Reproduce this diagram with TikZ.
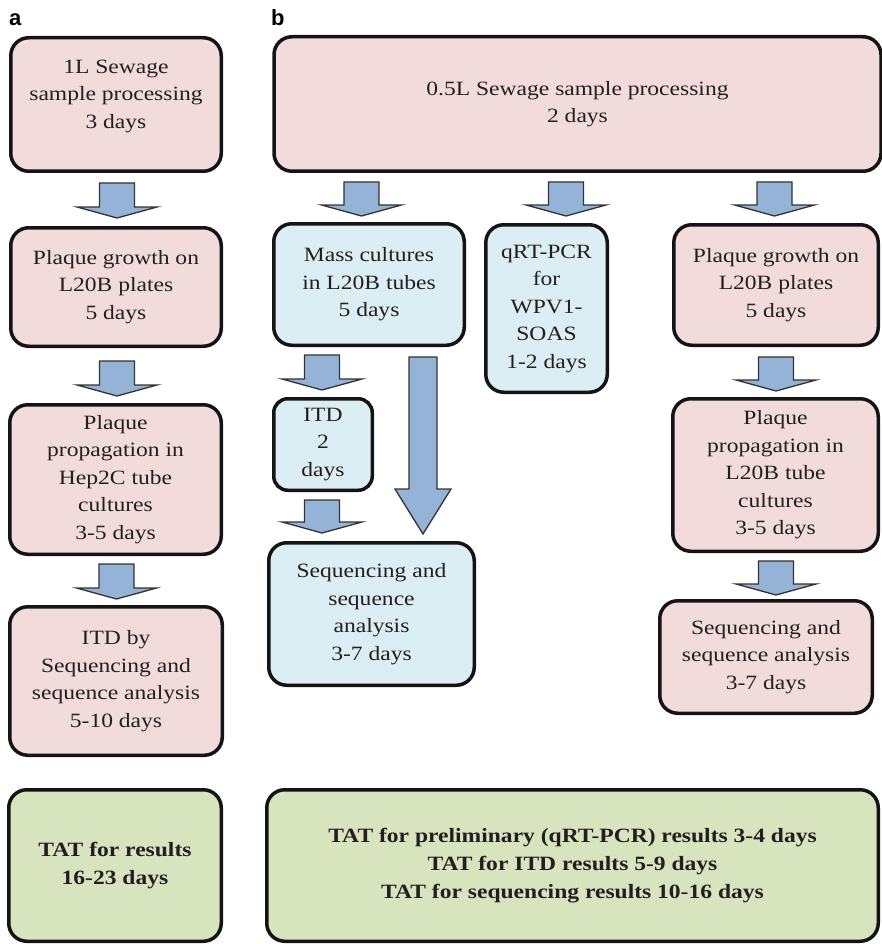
\documentclass[tikz,border=0pt]{standalone}
\usepackage{fontspec}
\setmainfont{Liberation Serif}[FakeStretch=1.16]
\newfontfamily\labelfont{Liberation Sans}
\usetikzlibrary{calc}
\definecolor{pinkfill}{RGB}{242,220,219}
\definecolor{bluefill}{RGB}{219,238,243}
\definecolor{greenfill}{RGB}{215,228,189}
\definecolor{arrowfill}{RGB}{149,179,215}
\definecolor{txtcol}{RGB}{35,31,32}
\definecolor{edgecol}{RGB}{20,20,20}
\begin{document}
\begin{tikzpicture}[x=1pt,y=-1pt,
  box/.style={draw=edgecol, line width=3.5pt, rounded corners=18pt, align=center,
    text=txtcol, font=\fontsize{20.3}{27.5}\selectfont, inner sep=0pt},
  pinkbox/.style={box, fill=pinkfill},
  bluebox/.style={box, fill=bluefill},
  greenbox/.style={box, fill=greenfill, font=\fontsize{20.3}{28}\selectfont\bfseries},
  panel/.style={font=\labelfont\bfseries\fontsize{22}{22}\selectfont, anchor=base west, inner sep=0pt},
  smallarr/.code={\def\arrSW{17.5pt}\def\arrHW{40pt}\def\arrHL{11pt}},
  bigarr/.code={\def\arrSW{14pt}\def\arrHW{28pt}\def\arrHL{45pt}},
  blk/.style={draw=black!80, line width=1.3pt, fill=arrowfill, line join=miter,
    to path={let \p1=(\tikztostart), \p2=(\tikztotarget) in
      (\x1-\arrSW,\y1) -- (\x1+\arrSW,\y1) -- (\x1+\arrSW,\y2+\arrHL) -- (\x1+\arrHW,\y2+\arrHL)
      -- (\x1,\y2) -- (\x1-\arrHW,\y2+\arrHL) -- (\x1-\arrSW,\y2+\arrHL) -- cycle}},
]
\useasboundingbox (0,0) rectangle (882,944);

% panel labels
\node[panel] (la) at (9,26) {a};
\node[panel] (lb) at (271,26) {b};

% panel a
\node[pinkbox, minimum width=210.5pt, minimum height=133.5pt] (a1) at (116,104.5)
  {1L Sewage\\sample processing\\3 days\\[-7pt]\mbox{}};
\node[pinkbox, minimum width=210.5pt, minimum height=118.5pt] (a2) at (116,287)
  {Plaque growth on\\L20B plates\\5 days};
\node[pinkbox, minimum width=211.5pt, minimum height=149.5pt] (a3) at (115.5,479.5)
  {Plaque\\propagation in\\Hep2C tube\\cultures\\3-5 days};
\node[pinkbox, minimum width=212.5pt, minimum height=148.5pt] (a4) at (116,681)
  {ITD by\\Sequencing and\\sequence analysis\\5-10 days};
\node[greenbox, minimum width=212.5pt, minimum height=151.5pt] (a5) at (115,865.5)
  {TAT for results\\16-23 days};

% panel b
\node[pinkbox, minimum width=607pt, minimum height=134.5pt] (b1) at (577.5,104)
  {0.5L Sewage sample processing\\2 days};
\node[bluebox, minimum width=190.5pt, minimum height=121.5pt] (b2) at (369,284.5)
  {Mass cultures\\in L20B tubes\\5 days};
\node[bluebox, minimum width=121.5pt, minimum height=167.5pt] (b3) at (546.5,308.5)
  {qRT-PCR\\for\\WPV1-\\SOAS\\1-2 days};
\node[pinkbox, minimum width=204.5pt, minimum height=120.5pt] (b4) at (776,285)
  {Plaque growth on\\L20B plates\\5 days};
\node[bluebox, rounded corners=14pt, minimum width=98.5pt, minimum height=91.5pt] (itd) at (323,444.5)
  {ITD\\2\\days};
\node[bluebox, minimum width=205.5pt, minimum height=142.5pt] (b5) at (371.5,614)
  {Sequencing and\\sequence\\analysis\\3-7 days};
\node[pinkbox, minimum width=205.5pt, minimum height=152.5pt] (b6) at (775.5,475)
  {Plaque\\propagation in\\L20B tube\\cultures\\3-5 days};
\node[pinkbox, minimum width=212.5pt, minimum height=112.5pt] (b7) at (766,657)
  {Sequencing and\\sequence analysis\\3-7 days};
\node[greenbox, minimum width=611.5pt, minimum height=151.5pt] (b8) at (572.5,865.5)
  {TAT for preliminary (qRT-PCR) results 3-4 days\\TAT for ITD results 5-9 days\\TAT for sequencing results 10-16 days};

% block arrows, panel a
\draw[smallarr, blk] ($(a1.south)+(1,10)$) to ($(a2.north)+(1,-8)$);
\draw[smallarr, blk] ($(a2.south)+(1,13)$) to ($(a3.north)+(1,-7)$);
\draw[smallarr, blk] ($(a3.south)+(1,8)$) to ($(a4.north)+(1,-6)$);

% block arrows, panel b
\draw[smallarr, blk] ($(b1.south -| b2.north)+(-7.5,9)$) to ($(b2.north)+(-7.5,-6)$);
\draw[smallarr, blk] ($(b1.south -| b3.north)+(19.5,9)$) to ($(b3.north)+(19.5,-7)$);
\draw[smallarr, blk] ($(b1.south -| b4.north)+(-1.5,9)$) to ($(b4.north)+(-1.5,-7)$);
\draw[smallarr, blk] ($(b2.south -| itd.north)+(-1,8)$) to ($(itd.north)+(-1,-7)$);
\draw[smallarr, blk] ($(itd.south)+(-1,8)$) to ($(b5.north -| itd.south)+(-1,-8)$);
\draw[bigarr, blk] ($(b2.south)+(54,10)$) to ($(b5.north -| b2.south)+(54,-7)$);
\draw[smallarr, blk] ($(b4.south)+(0,10)$) to ($(b6.north -| b4.south)+(0,-6)$);
\draw[smallarr, blk] ($(b6.south)+(0.5,8)$) to ($(b7.north -| b6.south)+(0.5,-4)$);
\end{tikzpicture}
\end{document}
